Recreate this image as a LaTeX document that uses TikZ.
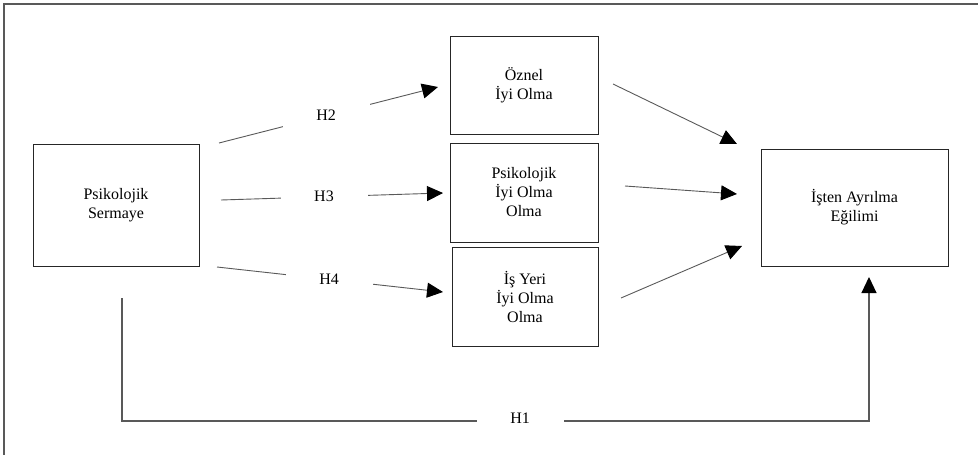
\documentclass[tikz,border=0pt]{standalone}
\usepackage{fontspec}
\setmainfont{Liberation Serif}
\usetikzlibrary{arrows.meta}
\begin{document}
\begin{tikzpicture}[x=1pt,y=-1pt,
  txt/.style={font=\fontsize{16}{19}\selectfont},
  box/.style={txt, draw=black!85, line width=1pt, align=center, inner sep=0pt},
  conn/.style={draw=black!65, line width=0.9pt},
  arr/.style={conn, -{Triangle[length=16pt,width=15pt,color=black]}},
  lab/.style={txt, fill=white, minimum width=87pt, minimum height=40pt, inner sep=0pt},
  frameline/.style={draw=black!65, line width=1.5pt}
]
\useasboundingbox (0,0) rectangle (978,455);
\draw[frameline] (4,455) -- (4,4) -- (978,4);

\node[box, minimum width=166pt, minimum height=122pt] (ps) at (116,205) {Psikolojik\\Sermaye};
\node[box, minimum width=148pt, minimum height=98pt] (oz) at (524,85) {Öznel\\İyi Olma};
\node[box, minimum width=148pt, minimum height=99pt] (pi) at (524,192.5) {Psikolojik\\İyi Olma\\Olma};
\node[box, minimum width=146pt, minimum height=99pt] (iy) at (525,296.5) {İş Yeri\\İyi Olma\\Olma};
\node[box, minimum width=187pt, minimum height=117pt] (ia) at (854.5,207.5) {İşten Ayrılma\\Eğilimi};

% endpoints of connectors
\coordinate (s2) at (219,143); \coordinate (e2) at (438,87);
\coordinate (s3) at (221,200); \coordinate (e3) at (443,193);
\coordinate (s4) at (217,267); \coordinate (e4) at (443,292);
\coordinate (o1) at (613,84);  \coordinate (t1) at (737,144);
\coordinate (o2) at (625,186); \coordinate (t2) at (737,194);
\coordinate (o3) at (621,298); \coordinate (t3) at (742,246);
\coordinate (h1a) at (122,298); \coordinate (h1b) at (122,421);
\coordinate (h1c) at (869,421); \coordinate (h1d) at (869,277);

\draw[arr] (s2) -- node[lab, pos=0.489] (h2) {H2} (e2);
\draw[arr] (s3) -- node[lab, pos=0.464] (h3) {H3} (e3);
\draw[arr] (s4) -- node[lab, pos=0.496] (h4) {H4} (e4);

\draw[arr] (o1) -- (t1);
\draw[arr] (o2) -- (t2);
\draw[arr] (o3) -- (t3);

\draw[arr, line width=1.1pt] (h1a) -- (h1b) -- node[lab, pos=0.533, yshift=3pt] (h1) {H1} (h1c) -- (h1d);
\end{tikzpicture}
\end{document}
